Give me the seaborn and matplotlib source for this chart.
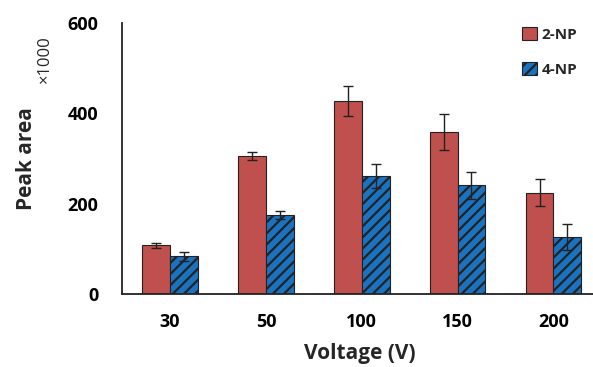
import matplotlib
matplotlib.use("Agg")
import matplotlib.pyplot as plt
import seaborn as sns
import pandas as pd

# data (peak area x1000)
voltages = ["30", "50", "100", "150", "200"]
np2_vals = [108, 305, 427, 359, 224]
np2_err = [6, 9, 33, 39, 30]
np4_vals = [84, 175, 261, 241, 126]
np4_err = [10, 8, 27, 30, 29]
series = ["2-NP", "4-NP"]

df = pd.DataFrame({
    "Voltage": voltages * 2,
    "Area": np2_vals + np4_vals,
    "Compound": [series[0]] * 5 + [series[1]] * 5,
})

sns.set_style("white")
plt.rcParams["font.family"] = ["Open Sans", "DejaVu Sans"]
plt.rcParams["hatch.linewidth"] = 1.6
plt.rcParams["hatch.color"] = "black"

fig = plt.figure(figsize=(5.93, 3.67), dpi=100)
ax = fig.add_axes([0.206, 0.199, 0.80, 0.738])

ax = sns.barplot(data=df, x="Voltage", y="Area", hue="Compound",
                 palette=["#C0504D", "#1A73C0"], width=0.58,
                 edgecolor="#222222", linewidth=0.8, saturation=1,
                 ax=ax, legend=False)

# hatch the 4-NP bars and draw error bars
errs = {series[0]: np2_err, series[1]: np4_err}
for cont, name in zip(ax.containers, series):
    xs, ys = [], []
    for bar in cont:
        if name == "4-NP":
            bar.set_hatch("///")
        xs.append(bar.get_x() + bar.get_width() / 2)
        ys.append(bar.get_height())
    ax.errorbar(xs, ys, yerr=errs[name], fmt="none", ecolor="#222222",
                elinewidth=1.0, capsize=3.5, capthick=1.0)

ax.set_ylim(0, 600)
ax.set_xlim(-0.5, 4.45)
ax.set_yticks([0, 200, 400, 600])
for s in ["top", "right"]:
    ax.spines[s].set_visible(False)
for s in ["left", "bottom"]:
    ax.spines[s].set_color("#222222")
    ax.spines[s].set_linewidth(1.3)
ax.tick_params(axis="both", direction="out", length=5, width=1.2,
               colors="#222222", labelsize=13, labelcolor="black")
ax.tick_params(axis="x", pad=9)
ax.tick_params(axis="y", pad=12)
for t in ax.get_xticklabels() + ax.get_yticklabels():
    t.set_fontweight("bold")

ax.set_xlabel("Voltage (V)", fontsize=15, fontweight="bold", labelpad=8)
ax.set_ylabel("Peak area", fontsize=15, fontweight="bold")
ax.yaxis.set_label_coords(-0.18, 0.5)
fig.text(0.076, 0.84, "×1000", rotation=90, fontsize=12,
         ha="center", va="center")

handles = [plt.Rectangle((0, 0), 1, 1, facecolor="#C0504D", edgecolor="#222222", lw=0.8),
           plt.Rectangle((0, 0), 1, 1, facecolor="#1A73C0", edgecolor="#222222", lw=0.8, hatch="///")]
leg = fig.legend(handles, series, loc="upper left", bbox_to_anchor=(0.857, 0.965),
                 frameon=False, fontsize=11, handlelength=1.0, handleheight=1.0,
                 handletextpad=0.3, labelspacing=1.3)
for t in leg.get_texts():
    t.set_fontweight("bold")

fig.savefig("out.png", dpi=100)
